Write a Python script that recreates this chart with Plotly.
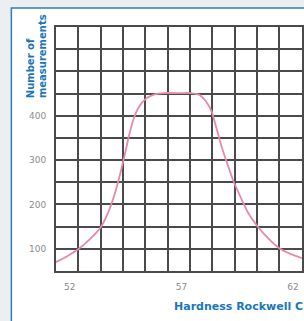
import plotly.graph_objects as go

hardness = [51.38, 51.9, 52.40, 52.9, 53.40, 53.70, 54.00, 54.25, 54.45, 54.65,
            54.85, 55.10, 55.40, 55.80, 56.20, 56.90, 57.40, 57.80, 58.10, 58.35,
            58.55, 58.80, 59.10, 59.35, 59.60, 60.00, 60.45, 60.90, 61.42, 61.90, 62.40]
measurements = [70, 84, 100, 122, 150, 180, 222, 268, 310, 355,
                392, 420, 438, 448, 451, 451, 451, 447, 432, 410,
                375, 330, 285, 250, 222, 180, 148, 123, 100, 88, 79]

x_tick_vals = [52, 57, 62]
x_tick_text = ["52", "57", "62"]
y_grid_vals = [50, 100, 150, 200, 250, 300, 350, 400, 450, 500, 550, 600]
y_tick_text = ["", "100", "", "200", "", "300", "", "400", "", "", "", ""]

y_title_1 = "Number of"
y_title_2 = "measurements"
x_title = "Hardness Rockwell C"

GRID = "#4a4a4a"
BLUE = "#1b76b9"
TICK = "#8c8c8c"

fig = go.Figure()
fig.add_trace(go.Scatter(
    x=hardness, y=measurements, mode="lines",
    line=dict(color="#e58aa8", width=1.8, shape="spline", smoothing=0.6),
    hoverinfo="skip", showlegend=False,
))

W, H = 304, 321
L, T, R, B = 56, 27, 0, 50
pw, ph = W - L - R, H - T - B

def px_x(px):
    return (px - L) / pw

def px_y(py):
    return (H - B - py) / ph

fig.update_layout(
    width=W, height=H,
    margin=dict(l=L, r=R, t=T, b=B, pad=0),
    paper_bgcolor="#eceff1",
    plot_bgcolor="white",
    showlegend=False,
    font=dict(family="DejaVu Sans", size=9, color=TICK),
    xaxis=dict(
        range=[51.38, 62.4],
        tickmode="array", tickvals=x_tick_vals, ticktext=x_tick_text,
        showgrid=False, zeroline=False,
        ticks="", ticklabelstandoff=6,
        tickfont=dict(family="DejaVu Sans", size=9, color=TICK),
        minor=dict(tickmode="linear", tick0=51.38, dtick=1, showgrid=True,
                   gridcolor=GRID, gridwidth=1.8, ticks=""),
        showline=True, linecolor=GRID, linewidth=1.8, mirror=True,
    ),
    yaxis=dict(
        range=[50, 600],
        tickmode="array", tickvals=y_grid_vals, ticktext=y_tick_text,
        showgrid=True, gridcolor=GRID, gridwidth=1.8, zeroline=False,
        ticks="", ticklabelstandoff=6,
        tickfont=dict(family="DejaVu Sans", size=9, color=TICK),
        showline=True, linecolor=GRID, linewidth=1.8, mirror=True,
    ),
    shapes=[
        dict(type="rect", xref="paper", yref="paper",
             x0=px_x(11), x1=px_x(330), y0=px_y(340), y1=px_y(8),
             fillcolor="white", line=dict(color="#2f7fa6", width=1.5),
             layer="below"),
    ],
    annotations=[
        dict(text="<b>%s</b>" % y_title_1, xref="paper", yref="paper",
             x=px_x(30), y=px_y(100), xanchor="center", yanchor="bottom",
             textangle=-90, showarrow=False,
             font=dict(family="DejaVu Sans", size=10, color=BLUE)),
        dict(text="<b>%s</b>" % y_title_2, xref="paper", yref="paper",
             x=px_x(42), y=px_y(100), xanchor="center", yanchor="bottom",
             textangle=-90, showarrow=False,
             font=dict(family="DejaVu Sans", size=10, color=BLUE)),
        dict(text="<b>%s</b>" % x_title, xref="paper", yref="paper",
             x=px_x(173), y=px_y(306), xanchor="left", yanchor="middle",
             showarrow=False,
             font=dict(family="DejaVu Sans", size=11, color=BLUE)),
    ],
)

fig.write_html(
    "out.html",
    config={"displayModeBar": False},
    post_script="document.body.style.margin='0';document.body.style.overflow='hidden';",
)
